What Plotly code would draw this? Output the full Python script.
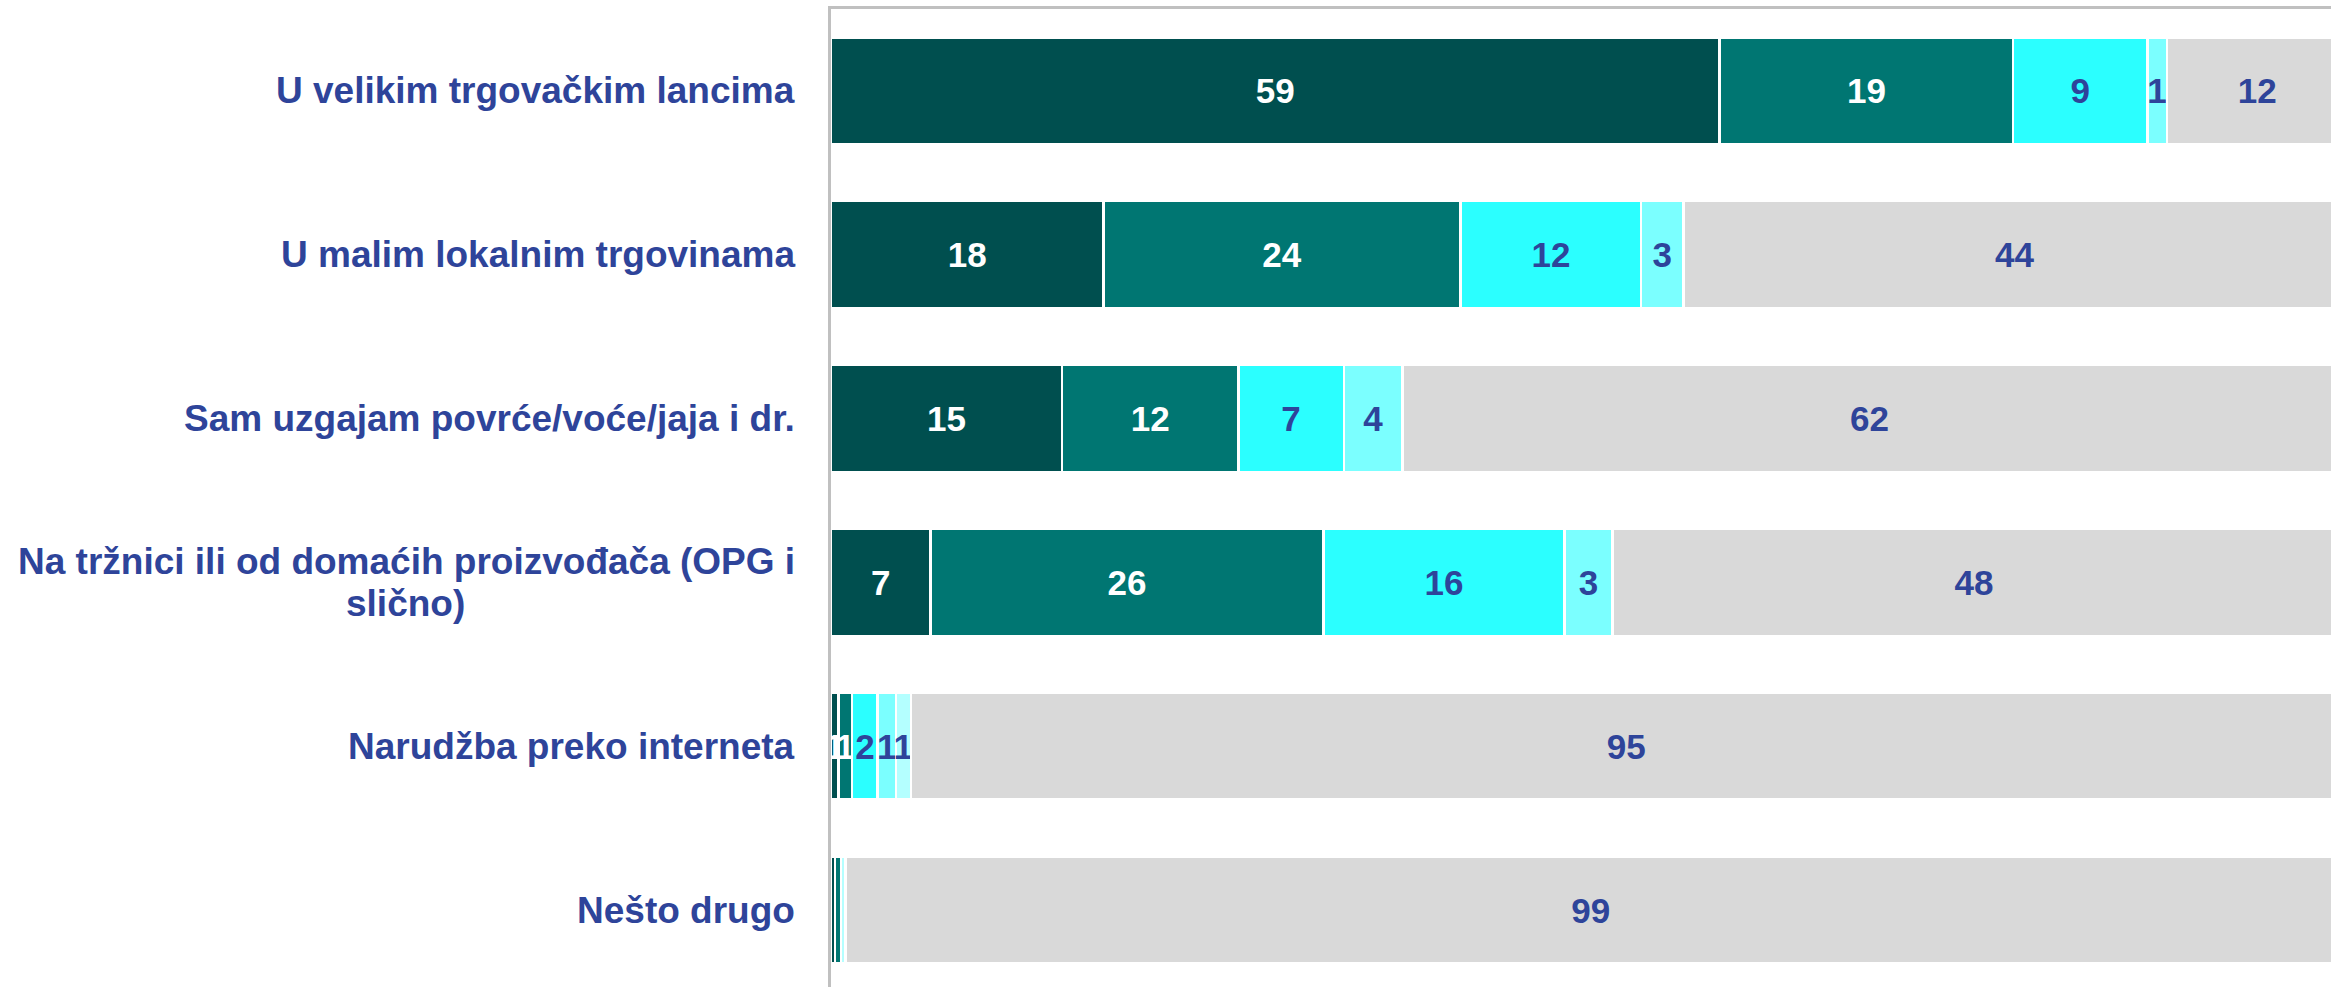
import plotly.graph_objects as go

# categories, top to bottom
categories = [
    "U velikim trgovačkim lancima",
    "U malim lokalnim trgovinama",
    "Sam uzgajam povrće/voće/jaja i dr.",
    "Na tržnici ili od domaćih proizvođača (OPG i<br>slično)",
    "Narudžba preko interneta",
    "Nešto drugo",
]

# segment values
s1 = [59.0, 18.1, 15.35, 6.6, 0.5, 0.25]
s2 = [19.5, 23.7, 11.7, 26.1, 0.9, 0.4]
s3 = [8.9, 12.0, 7.0, 16.0, 1.7, 0.0]
s4 = [1.3, 2.8, 3.9, 3.2, 1.2, 0.0]
s5 = [0.0, 0.0, 0.0, 0.0, 1.0, 0.3]
s6 = [12.0, 44.0, 62.0, 48.0, 95.0, 99.0]

# printed labels
l1 = ["59", "18", "15", "7", "1", ""]
l2 = ["19", "24", "12", "26", "1", ""]
l3 = ["9", "12", "7", "16", "2", ""]
l4 = ["1", "3", "4", "3", "1", ""]
l5 = ["", "", "", "", "1", ""]
l6 = ["12", "44", "62", "48", "95", "99"]

BLUE = "#2E449A"
FONT = "Liberation Sans"

series = [
    (s1, l1, "#004F4F", "white"),
    (s2, l2, "#007672", "white"),
    (s3, l3, "#2BFFFF", BLUE),
    (s4, l4, "#7BFFFF", BLUE),
    (s5, l5, "#B4FFFF", BLUE),
    (s6, l6, "#D9D9D9", BLUE),
]

fig = go.Figure()
for vals, labels, color, tcolor in series:
    fig.add_trace(go.Bar(
        y=categories,
        x=vals,
        orientation="h",
        marker=dict(color=color, line=dict(color="white", width=2.5)),
        text=labels,
        textposition="inside",
        insidetextanchor="middle",
        textangle=0,
        constraintext="none",
        textfont=dict(family=FONT, size=35, color=tcolor, weight="bold"),
        hoverinfo="skip",
        showlegend=False,
    ))

# category labels as annotations; the wrapped one is split into two
# lines so the line spacing and centring follow the original
label_font = dict(family=FONT, size=37, color=BLUE, weight="bold")
for cat in categories:
    if "<br>" in cat:
        first, second = cat.split("<br>")
        fig.add_annotation(
            x=0, xref="paper", y=cat, yref="y", text=first, showarrow=False,
            xanchor="right", xshift=-34, yshift=21, font=label_font,
        )
        fig.add_annotation(
            x=0, xref="paper", y=cat, yref="y", text=second, showarrow=False,
            xanchor="center", xshift=-426, yshift=-21, font=label_font,
        )
    else:
        fig.add_annotation(
            x=0, xref="paper", y=cat, yref="y", text=cat, showarrow=False,
            xanchor="right", xshift=-34, font=label_font,
        )

fig.update_layout(
    width=2331, height=987,
    margin=dict(l=831, r=0, t=9, b=0),
    barmode="stack",
    bargap=0.347,
    paper_bgcolor="white",
    plot_bgcolor="white",
    uniformtext=dict(mode="show", minsize=35),
    xaxis=dict(
        range=[0, 99.6], side="top",
        showgrid=False, zeroline=False, showticklabels=False, ticks="",
        showline=True, linecolor="#C0C0C0", linewidth=2.5,
    ),
    yaxis=dict(
        categoryorder="array", categoryarray=categories,
        range=[5.47, -0.5],
        showgrid=False, zeroline=False, showticklabels=False, ticks="",
        showline=True, linecolor="#C0C0C0", linewidth=2.5,
    ),
)

# drop the default page margin so the figure fills the window exactly
fig.write_html(
    "out.html",
    config={"displayModeBar": False},
    post_script="document.body.style.margin='0';document.body.style.overflow='hidden';",
)
